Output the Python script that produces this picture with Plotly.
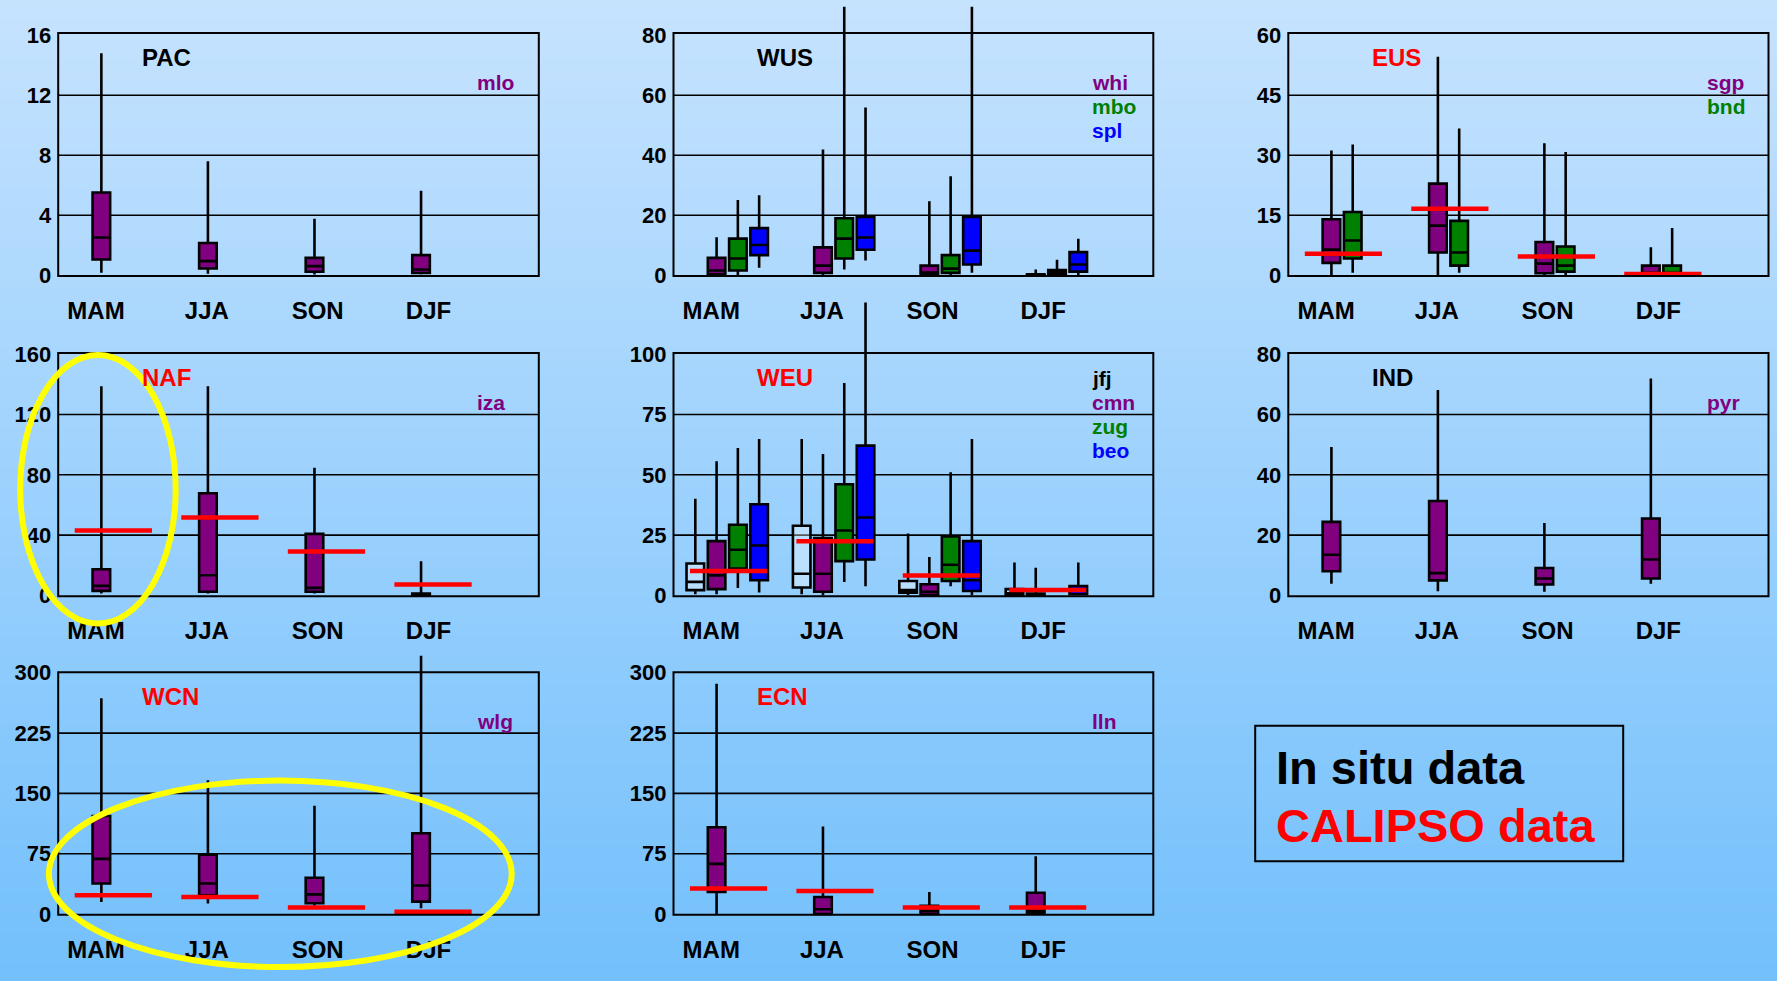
import plotly.graph_objects as go

W, H = 1777, 981
FONT = "Liberation Sans, Arial, sans-serif"

SEASONS = ["MAM", "JJA", "SON", "DJF"]
SEASON_LABEL_POS = [-0.05, 0.99, 2.03, 3.07]

# Seasonal statistics per station: (lower whisker, q1, median, q3, upper whisker)
mlo = [(0.17, 1.05, 2.52, 5.52, 14.8), (0.1, 0.45, 0.94, 2.15, 7.6),
       (0.05, 0.23, 0.61, 1.16, 3.76), (0.05, 0.15, 0.38, 1.34, 5.63)]

whi = [(0.0, 0.3, 1.6, 5.8, 12.7), (0.1, 0.8, 3.2, 9.3, 41.9),
       (0.0, 0.3, 0.9, 3.2, 24.7), (0.0, 0.0, 0.1, 0.3, 1.9)]
mbo = [(0.1, 1.6, 5.6, 12.2, 25.1), (1.9, 5.6, 12.2, 19.0, 89.5),
       (0.1, 0.8, 2.2, 6.7, 33.0), (0.0, 0.3, 1.1, 1.7, 5.2)]
spl = [(2.5, 6.7, 10.1, 15.7, 26.7), (4.9, 8.5, 12.6, 19.4, 55.9),
       (0.8, 3.6, 8.2, 19.4, 89.5), (0.1, 1.2, 3.6, 7.7, 12.2)]

sgp = [(0.0, 3.1, 6.4, 14.0, 31.2), (0.0, 5.7, 12.4, 22.9, 54.6),
       (0.0, 0.5, 2.9, 8.3, 33.0), (0.0, 0.1, 0.6, 2.4, 7.0)]
bnd = [(0.6, 4.2, 8.7, 15.8, 32.7), (0.6, 2.4, 5.7, 13.6, 36.7),
       (0.0, 0.9, 2.4, 7.2, 30.8), (0.0, 0.1, 0.6, 2.4, 11.8)]

iza = [(1.3, 3.0, 6.3, 17.3, 138.8), (1.3, 2.4, 13.4, 67.8, 138.8),
       (1.3, 2.4, 5.0, 40.8, 84.6), (0.0, 0.0, 0.3, 1.3, 22.6)]

jfj = [(0.5, 2.2, 5.6, 13.2, 40.1), (0.5, 3.3, 9.0, 28.9, 64.8),
       (0.1, 1.1, 2.2, 6.0, 25.7), (0.0, 0.2, 0.9, 2.6, 13.6)]
cmn = [(0.5, 2.6, 8.3, 22.5, 55.6), (0.1, 1.5, 9.0, 23.8, 58.6),
       (0.0, 0.1, 1.5, 4.6, 15.9), (0.0, 0.1, 0.4, 0.8, 11.5)]
zug = [(3.1, 11.1, 18.9, 29.3, 61.1), (5.6, 14.2, 26.9, 46.1, 88.1),
       (3.8, 6.0, 12.7, 24.4, 51.1), None]
beo = [(1.2, 6.3, 20.7, 37.8, 64.8), (3.8, 14.9, 32.3, 62.1, 121.4),
       (0.1, 1.8, 6.3, 22.5, 64.8), (0.0, 0.5, 2.2, 3.9, 13.6)]

pyr = [(3.9, 8.0, 13.5, 24.4, 49.2), (1.4, 5.0, 7.4, 31.3, 68.1),
       (1.2, 3.6, 5.6, 9.1, 24.0), (3.9, 5.6, 11.9, 25.5, 71.9)]

wlg = [(15.0, 38.0, 68.5, 121.9, 268.3), (13.0, 23.2, 38.0, 73.8, 166.3),
       (10.1, 13.3, 24.4, 45.0, 134.7), (7.2, 15.4, 35.5, 100.5, 321.3)]

lln = [(0.0, 27.4, 62.3, 107.9, 286.4), (0.0, 0.0, 5.9, 21.2, 108.8),
       (0.0, 0.0, 3.9, 10.1, 27.4), (0.0, 1.0, 3.9, 26.5, 71.8)]

# CALIPSO seasonal values per region
calipso_eus = [5.4, 16.6, 4.7, 0.3]
calipso_naf = [43.0, 51.7, 29.1, 7.2]
calipso_weu = [10.1, 22.5, 8.3, 2.2]
calipso_wcn = [23.2, 21.2, 8.0, 2.7]
calipso_ecn = [31.8, 28.6, 8.0, 8.0]

PURPLE, GREEN, BLUE = "#800080", "#008000", "#0000ff"
HOLLOW = "rgba(255,255,255,0.35)"
RED = "#ff0000"

# (label, stats, box fill, label colour, slot within the season group)
panels = [
    dict(row=0, col=0, title="PAC", tcolor="black", step=4,
         stations=[("mlo", mlo, PURPLE, PURPLE, 0)], calipso=None),
    dict(row=0, col=1, title="WUS", tcolor="black", step=20,
         stations=[("whi", whi, PURPLE, PURPLE, 0), ("mbo", mbo, GREEN, GREEN, 1),
                   ("spl", spl, BLUE, BLUE, 2)], calipso=None),
    dict(row=0, col=2, title="EUS", tcolor=RED, step=15,
         stations=[("sgp", sgp, PURPLE, PURPLE, 0), ("bnd", bnd, GREEN, GREEN, 1)],
         calipso=calipso_eus),
    dict(row=1, col=0, title="NAF", tcolor=RED, step=40,
         stations=[("iza", iza, PURPLE, PURPLE, 0)], calipso=calipso_naf),
    dict(row=1, col=1, title="WEU", tcolor=RED, step=25,
         stations=[("jfj", jfj, HOLLOW, "black", -1), ("cmn", cmn, PURPLE, PURPLE, 0),
                   ("zug", zug, GREEN, GREEN, 1), ("beo", beo, BLUE, BLUE, 2)],
         calipso=calipso_weu),
    dict(row=1, col=2, title="IND", tcolor="black", step=20,
         stations=[("pyr", pyr, PURPLE, PURPLE, 0)], calipso=None),
    dict(row=2, col=0, title="WCN", tcolor=RED, step=75,
         stations=[("wlg", wlg, PURPLE, PURPLE, 0)], calipso=calipso_wcn),
    dict(row=2, col=1, title="ECN", tcolor=RED, step=75,
         stations=[("lln", lln, PURPLE, PURPLE, 0)], calipso=calipso_ecn),
]

# panel frame geometry (pixels)
col_left = [58.2, 673.5, 1288.3]
col_right = [538.8, 1153.3, 1768.5]
row_top = [33.3, 356.0, 677.7]
row_zero = [277.5, 600.3, 921.5]
row_px_per_step = [60.5, 60.8, 60.8]
row_domain_top = [0.0, 298.0, 638.0]

X_LO, X_HI = -0.405, 4.105
SLOT = 0.2
BOX_W = 0.165
LABEL_GAP = 24.0


def px(x):
    return x / W


def py(y):
    return 1 - y / H


fig = go.Figure()
shapes = []
annotations = []
axes = {}

# vertical background gradient
top_rgb = (198, 227, 254)
bot_rgb = (115, 192, 252)
N = 98
for k in range(N):
    t = (k + 0.5) / N
    c = tuple(round(a + (b - a) * t) for a, b in zip(top_rgb, bot_rgb))
    shapes.append(dict(type="rect", xref="paper", yref="paper", x0=0, x1=1,
                       y0=max(0, 1 - (k + 1) / N - 0.003), y1=1 - k / N,
                       fillcolor="rgb(%d,%d,%d)" % c, line_width=0, layer="below"))

for i, p in enumerate(panels):
    n = i + 1
    sfx = "" if n == 1 else str(n)
    xa, ya = "x" + sfx, "y" + sfx
    r, c = p["row"], p["col"]
    L, R = col_left[c], col_right[c]
    Ft, Z, P = row_top[r], row_zero[r], row_px_per_step[r]
    Fb = Z + 0.8
    step = p["step"]
    u = (X_HI - X_LO) / (R - L)

    def val(yy):
        return (Z - yy) / P * step

    dom_bot = Fb + 4
    axes["xaxis" + sfx] = dict(
        domain=[px(L - 3), px(R + 3)], range=[X_LO - 3 * u, X_HI + 3 * u],
        anchor=ya, tickvals=SEASON_LABEL_POS, ticktext=SEASONS,
        showgrid=False, zeroline=False, showline=False, ticks="",
        tickfont=dict(family=FONT, size=24, color="black", weight="bold"),
        ticklabelstandoff=14, fixedrange=True)
    axes["yaxis" + sfx] = dict(
        domain=[py(dom_bot), py(row_domain_top[r])],
        range=[val(dom_bot), val(row_domain_top[r])],
        anchor=xa, tickvals=[k * step for k in range(5)],
        ticktext=[str(k * step) for k in range(5)],
        showgrid=False, zeroline=False, showline=False, ticks="",
        tickfont=dict(family=FONT, size=22, color="black", weight="bold"),
        ticklabelstandoff=3, fixedrange=True)

    # horizontal grid lines
    for k in range(1, 4):
        shapes.append(dict(type="line", xref="paper", yref=ya, x0=px(L), x1=px(R),
                           y0=k * step, y1=k * step,
                           line=dict(color="black", width=1.6), layer="below"))
    # panel frame
    shapes.append(dict(type="rect", xref="paper", yref="paper",
                       x0=px(L), x1=px(R), y0=py(Fb), y1=py(Ft),
                       line=dict(color="black", width=2), layer="above"))

    # station boxes
    for name, stats, fill, lcolor, slot in p["stations"]:
        xs, lo, q1, med, q3, hi = [], [], [], [], [], []
        for s, st in enumerate(stats):
            if st is None:
                continue
            xs.append(s + slot * SLOT)
            lo.append(st[0]); q1.append(st[1]); med.append(st[2])
            q3.append(st[3]); hi.append(st[4])
        fig.add_trace(go.Box(
            x=xs, lowerfence=lo, q1=q1, median=med, q3=q3, upperfence=hi,
            orientation="v", width=BOX_W, fillcolor=fill,
            line=dict(color="black", width=2.6), whiskerwidth=0,
            boxpoints=False, xaxis=xa, yaxis=ya, showlegend=False,
            hoverinfo="skip", name=name))
        annotations.append(dict(
            text=name, xref="paper", yref="paper",
            x=px(R - 0.132 * (R - L)), y=py(Ft + 57.5 + slot * LABEL_GAP - 7.5),
            xanchor="left", yanchor="middle", showarrow=False,
            font=dict(family=FONT, size=21, color=lcolor, weight="bold")))

    # CALIPSO seasonal level
    if p["calipso"]:
        xl, yl = [], []
        for s, v in enumerate(p["calipso"]):
            xl += [s - 0.25, s + 0.475, None]
            yl += [v, v, None]
        fig.add_trace(go.Scatter(x=xl, y=yl, mode="lines",
                                 line=dict(color=RED, width=4.5),
                                 xaxis=xa, yaxis=ya, showlegend=False,
                                 hoverinfo="skip"))

    # region name
    annotations.append(dict(
        text=p["title"], xref="paper", yref="paper",
        x=px(L + 0.17 * (R - L)), y=py(Ft + 24.5),
        xanchor="left", yanchor="middle", showarrow=False,
        font=dict(family=FONT, size=24, color=p["tcolor"], weight="bold")))

# key box
shapes.append(dict(type="rect", xref="paper", yref="paper",
                   x0=px(1255.2), x1=px(1623.2), y0=py(868.3), y1=py(731.7),
                   line=dict(color="black", width=2), layer="above"))
annotations.append(dict(text="In situ data", xref="paper", yref="paper",
                        x=px(1274), y=py(774), xanchor="left", yanchor="middle",
                        showarrow=False,
                        font=dict(family=FONT, size=47, color="black", weight="bold")))
annotations.append(dict(text="CALIPSO data", xref="paper", yref="paper",
                        x=px(1274), y=py(832), xanchor="left", yanchor="middle",
                        showarrow=False,
                        font=dict(family=FONT, size=47, color=RED, weight="bold")))

# highlight ellipses
shapes.append(dict(type="circle", xref="paper", yref="paper",
                   x0=px(20.2), x1=px(175.7), y0=py(628.7), y1=py(358),
                   line=dict(color="#ffff00", width=6), layer="above"))
shapes.append(dict(type="circle", xref="paper", yref="paper",
                   x0=px(48.9), x1=px(511.7), y0=py(975), y1=py(787),
                   line=dict(color="#ffff00", width=6), layer="above"))

fig.update_layout(
    width=W, height=H, margin=dict(l=0, r=0, t=0, b=0),
    paper_bgcolor="rgb(115,192,252)", plot_bgcolor="rgba(0,0,0,0)",
    showlegend=False, boxmode="overlay",
    shapes=shapes, annotations=annotations, **axes)

fig.write_html("out.html")
